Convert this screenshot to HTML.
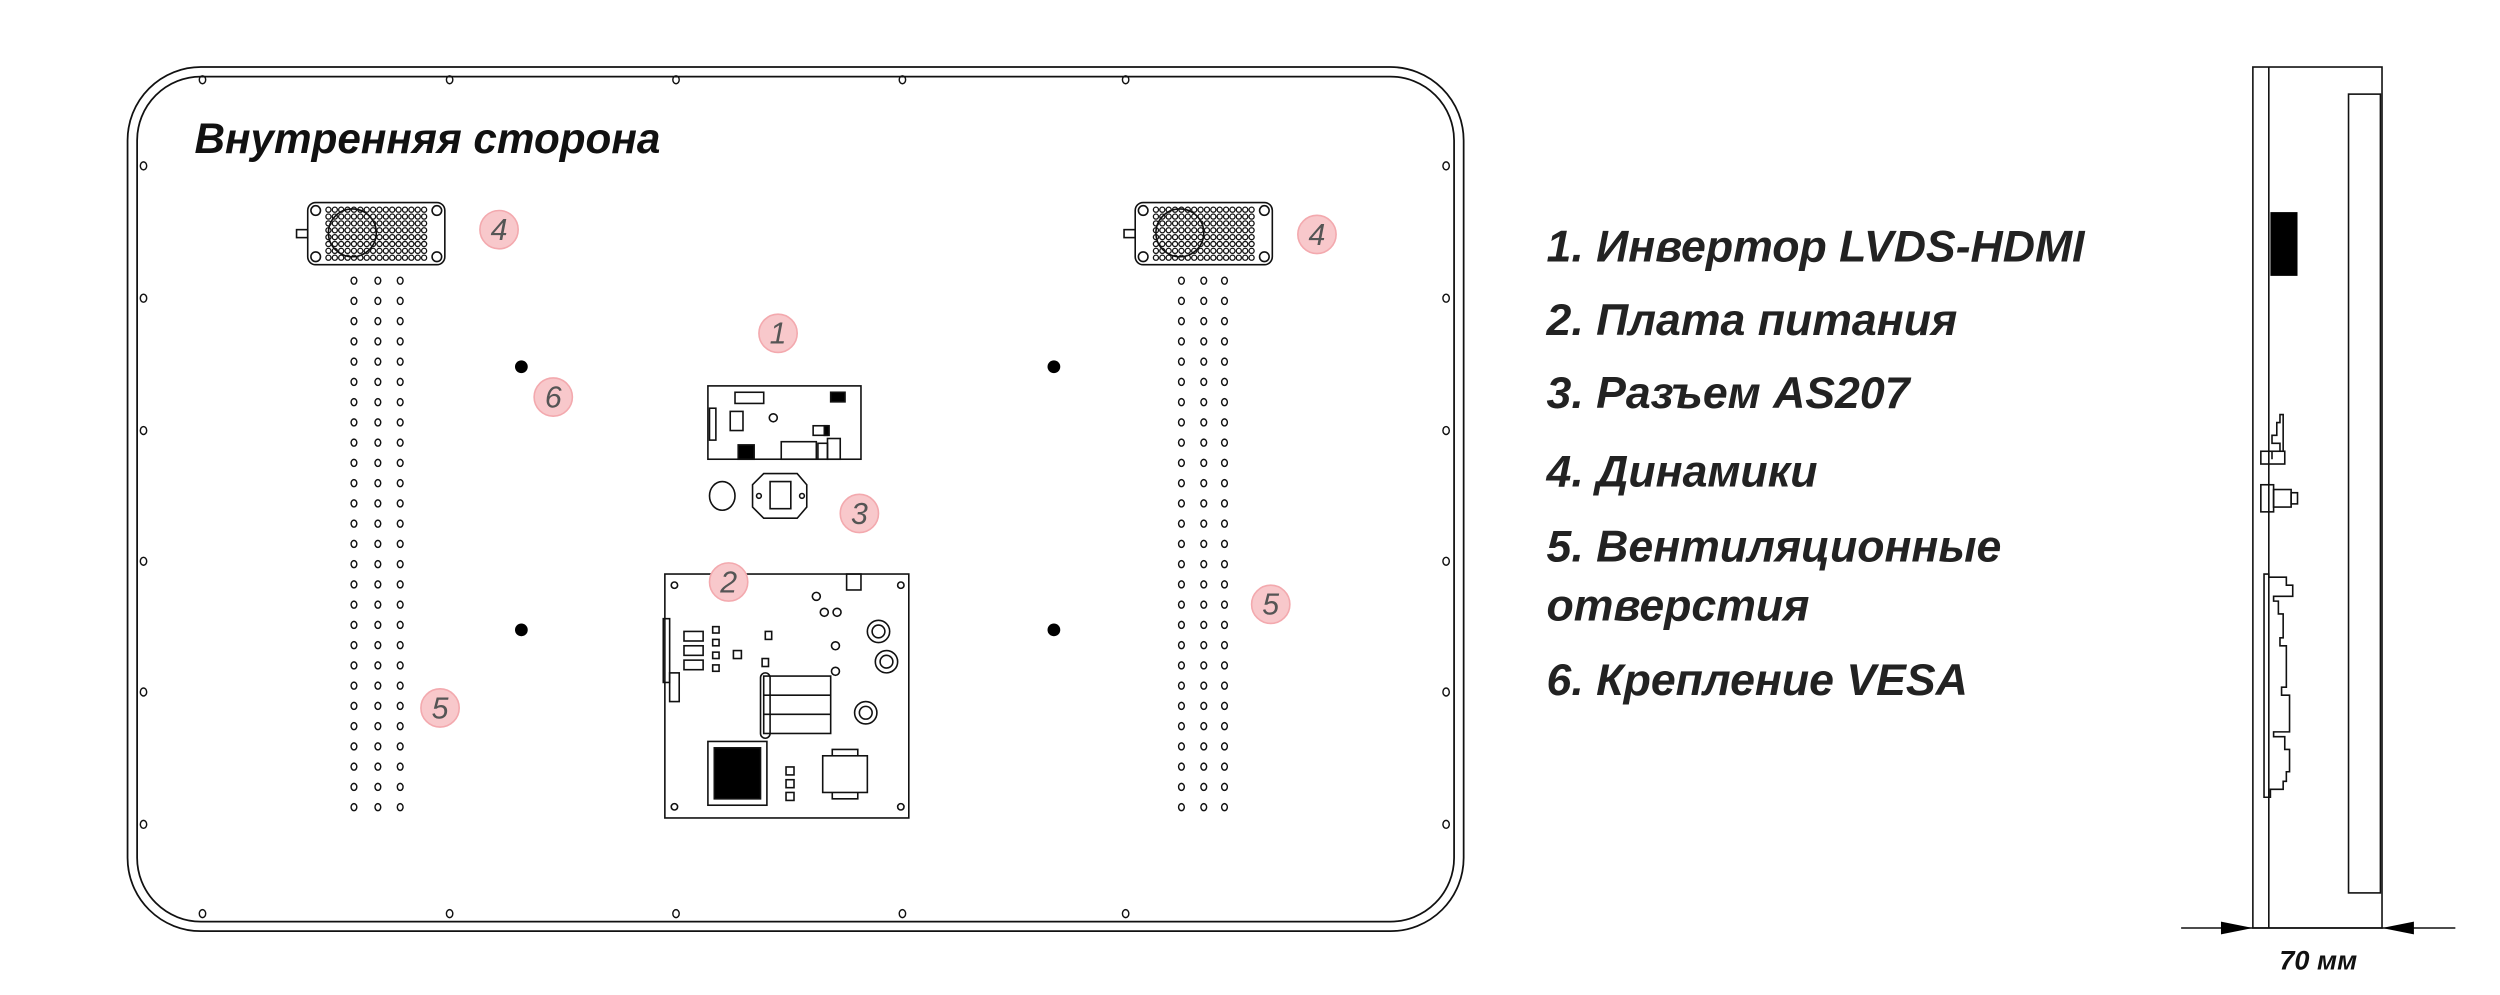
<!DOCTYPE html>
<html><head><meta charset="utf-8"><style>
html,body{margin:0;padding:0;background:#fff;}
svg{display:block}
text{font-family:"Liberation Sans",sans-serif;}
</style></head><body>
<svg id="s" width="2500" height="995" viewBox="0 0 1568 624" xmlns="http://www.w3.org/2000/svg">
<g fill="none" stroke="#111" stroke-width="1.1">
<rect x="80" y="42" width="838" height="542" rx="46"/>
<rect x="86" y="48" width="826" height="530" rx="40"/>
</g>
<text x="122" y="96" font-size="26.5" font-weight="bold" font-style="italic" fill="#111">Внутренняя сторона</text>
<g id="holes" fill="none" stroke="#111" stroke-width="0.9"></g>
<g id="vents" fill="none" stroke="#111" stroke-width="0.9"></g>
<g id="speakers" fill="none" stroke="#111" stroke-width="1"></g>
<g fill="#000">
<circle cx="327" cy="230" r="4"/><circle cx="661" cy="230" r="4"/><circle cx="327" cy="395" r="4"/><circle cx="661" cy="395" r="4"/>
</g>
<g fill="none" stroke="#111" stroke-width="1">
<rect x="444" y="242" width="96" height="46"/>
<rect x="461" y="246" width="18" height="7"/>
<rect x="521" y="246" width="9" height="6" fill="#000"/>
<rect x="445" y="256" width="4" height="20"/>
<rect x="458" y="258" width="8" height="12"/>
<circle cx="485" cy="262" r="2.5"/>
<rect x="510" y="267" width="9" height="6"/><rect x="517" y="267" width="3" height="6" fill="#000"/>
<rect x="463" y="279" width="10" height="9" fill="#000"/>
<rect x="490" y="277" width="22" height="11"/><rect x="513" y="278" width="6" height="10"/><rect x="519" y="275" width="8" height="13"/>
</g>
<g fill="none" stroke="#111" stroke-width="1">
<ellipse cx="453" cy="311" rx="8" ry="9"/>
<path d="M479 297 H500 L506 304 V318 L500 325 H479 L472 318 V304 Z"/>
<path d="M483 302 H496 V319 H483 Z"/><circle cx="476" cy="311" r="1.5"/><circle cx="503" cy="311" r="1.5"/>
</g>
<g fill="none" stroke="#111" stroke-width="1">
<rect x="417" y="360" width="153" height="153"/>
<circle cx="423" cy="367" r="2"/><circle cx="565" cy="367" r="2"/><circle cx="423" cy="506" r="2"/><circle cx="565" cy="506" r="2"/>
<rect x="531" y="360" width="9" height="10"/>
<circle cx="512" cy="374" r="2.5"/><circle cx="517" cy="384" r="2.5"/><circle cx="525" cy="384" r="2.5"/>
<circle cx="551" cy="396" r="7"/><circle cx="551" cy="396" r="4"/>
<circle cx="556" cy="415" r="7"/><circle cx="556" cy="415" r="4"/>
<circle cx="543" cy="447" r="7"/><circle cx="543" cy="447" r="4"/>
<circle cx="524" cy="405" r="2.5"/><circle cx="524" cy="421" r="2.5"/>
<rect x="416" y="388" width="4" height="40"/><rect x="420" y="422" width="6" height="18"/>
<rect x="429" y="396" width="12" height="6"/><rect x="429" y="405" width="12" height="6"/><rect x="429" y="414" width="12" height="6"/>
<rect x="447" y="393" width="4" height="4"/><rect x="447" y="401" width="4" height="4"/><rect x="447" y="409" width="4" height="4"/><rect x="447" y="417" width="4" height="4"/>
<rect x="460" y="408" width="5" height="5"/><rect x="480" y="396" width="4" height="5"/><rect x="478" y="413" width="4" height="5"/>
<rect x="479" y="424" width="42" height="36"/><line x1="479" y1="436" x2="521" y2="436"/><line x1="479" y1="448" x2="521" y2="448"/><rect x="477" y="422" width="6" height="41" rx="3"/>
<rect x="444" y="465" width="37" height="40"/><rect x="448" y="469" width="29" height="32" fill="#000"/>
<rect x="493" y="481" width="5" height="5"/><rect x="493" y="489" width="5" height="5"/><rect x="493" y="497" width="5" height="5"/>
<rect x="516" y="474" width="28" height="23"/><path d="M522 474 V470 H538 V474 M522 497 V501 H538 V497"/>
</g>
<g id="badges"></g>
<g font-size="28" font-style="italic" font-weight="bold" fill="#222">
<text x="970" y="164">1. Инвертор LVDS-HDMI</text>
<text x="970" y="210">2. Плата питания</text>
<text x="970" y="256">3. Разъем AS207</text>
<text x="970" y="305">4. Динамики</text>
<text x="970" y="352">5. Вентиляционные</text>
<text x="970" y="389">отверстия</text>
<text x="970" y="436">6. Крепление VESA</text>
</g>
<g fill="none" stroke="#111" stroke-width="1">
<rect x="1413" y="42" width="81" height="540"/>
<line x1="1423" y1="42" x2="1423" y2="582"/>
<rect x="1473" y="59" width="20" height="501"/>
<rect x="1424" y="133" width="17" height="40" fill="#000" stroke="none"/>
<path d="M1425 288 V283 H1430 V278 H1425 V273 H1428 V265 H1430 V260 H1432 V283 M1432 260 V283"/>
<rect x="1418" y="283" width="15" height="8"/>
<rect x="1418" y="304" width="8" height="17"/><rect x="1426" y="307" width="11" height="11"/><rect x="1437" y="309" width="4" height="7"/>
<path d="M1420 362 V500 H1424 V495 H1432 V490 H1434 V484 H1436 V470 H1433 V462 H1426 V459 H1436 V436 H1431 V431 H1434 V405 H1430 V400 H1432 V385 H1429 V377 H1426 V374 H1438 V367 H1434 V362 H1423 V360 H1420 Z"/>
</g>
<g>
<line x1="1368" y1="582" x2="1540" y2="582" stroke="#111" stroke-width="1"/>
<path d="M1413 582 L1393 578 L1393 586 Z M1494 582 L1514 578 L1514 586 Z" fill="#000"/>
<text x="1454" y="608" font-size="17" font-style="italic" font-weight="bold" fill="#111" text-anchor="middle">70 мм</text>
</g>
</svg>
<script>
const NS='http://www.w3.org/2000/svg';
const ventCols=[[222,237,251],[741,755,768]];
const ventRows=27;
const badges=[['4',313,144],['4',826,147],['1',488,209],['6',347,249],['3',539,322],['2',457,365],['5',276,444],['5',797,379]];
const holesTop=[127,282,424,566,706];
const holesSide=[104,187,270,352,434,517];
function c(parent,tag,attrs){const e=document.createElementNS(NS,tag);for(const k in attrs)e.setAttribute(k,attrs[k]);parent.appendChild(e);return e;}
const H=document.getElementById('holes');


holesTop.forEach(x=>{c(H,'ellipse',{cx:x,cy:50,rx:2,ry:2.5});c(H,'ellipse',{cx:x,cy:573,rx:2,ry:2.5});});
holesSide.forEach(y=>{c(H,'ellipse',{cx:90,cy:y,rx:2,ry:2.5});c(H,'ellipse',{cx:907,cy:y,rx:2,ry:2.5});});
const V=document.getElementById('vents');


ventCols.forEach(cols=>cols.forEach(x=>{for(let i=0;i<ventRows;i++)c(V,'ellipse',{cx:x,cy:176+i*12.7,rx:1.8,ry:2.2});}));
const S=document.getElementById('speakers');
[193,712].forEach(x0=>{
  const g=c(S,'g',{});
  
  
  c(g,'rect',{x:x0,y:127,width:86,height:39,rx:5});
  c(g,'rect',{x:x0-7,y:144,width:7,height:5});
  [[x0+5,132],[x0+81,132],[x0+5,161],[x0+81,161]].forEach(p=>c(g,'circle',{cx:p[0],cy:p[1],r:3}));
  c(g,'circle',{cx:x0+28,cy:146,r:15});
  for(let r=0;r<8;r++)for(let k=0;k<16;k++)c(g,'circle',{cx:x0+13+k*4,cy:131.5+r*4.3,r:1.6,'stroke-width':0.8});
});
const B=document.getElementById('badges');
badges.forEach(b=>{
  const g=c(B,'g',{});
  
  
  c(g,'circle',{cx:b[1],cy:b[2],r:12,fill:'#f8c8cb',stroke:'#f3a9ae','stroke-width':1});
  const t=c(g,'text',{x:b[1],y:b[2]+6.5,'font-size':19,'font-style':'italic','text-anchor':'middle',fill:'#555'});
  t.textContent=b[0];
});
</script>
</body></html>
